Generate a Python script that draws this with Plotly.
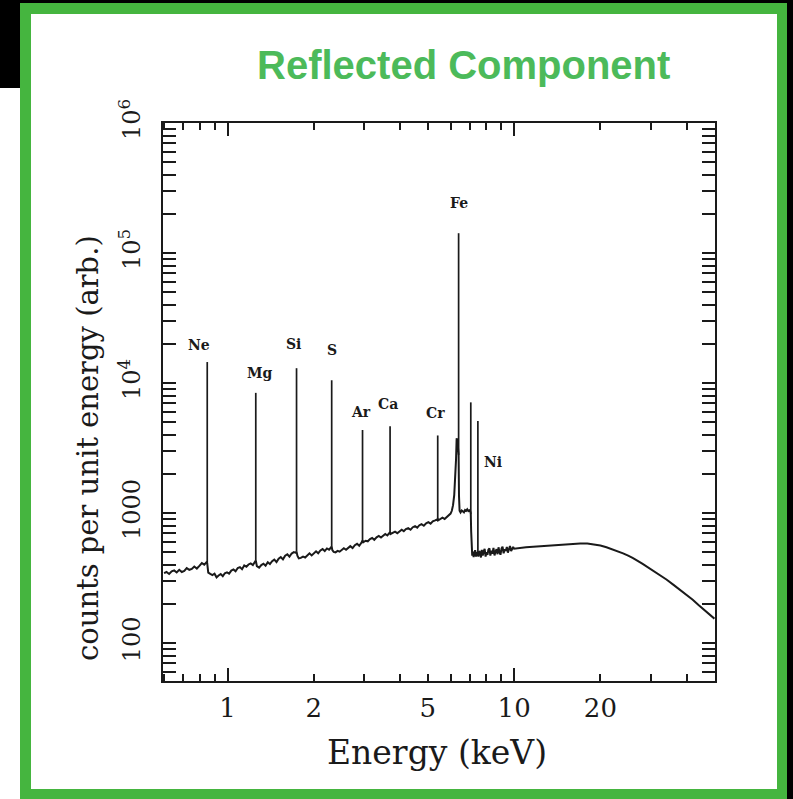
import math
import plotly.graph_objects as go

# ---------------------------------------------------------------- data
# Continuum of the reflected spectrum (energy in keV, counts per unit energy)
cont_energy = [
    0.600, 0.612, 0.625, 0.638, 0.651, 0.664, 0.678, 0.692, 0.706, 0.720,
    0.735, 0.750, 0.765, 0.781, 0.797, 0.813, 0.829, 0.843, 0.849,
    0.856, 0.870, 0.885, 0.900, 0.915, 0.930, 0.946, 0.962, 0.978, 0.995,
    1.012, 1.030, 1.048, 1.066, 1.085, 1.104, 1.123, 1.143, 1.163, 1.183,
    1.204, 1.225, 1.245, 1.254,
    1.265, 1.288, 1.311, 1.334, 1.357, 1.381, 1.405, 1.430, 1.455, 1.481,
    1.507, 1.533, 1.560, 1.588, 1.616, 1.644, 1.673, 1.703, 1.730, 1.740,
    1.752, 1.772, 1.800, 1.833, 1.865, 1.898, 1.931, 1.965, 2.000, 2.035,
    2.071, 2.108, 2.145, 2.183, 2.221, 2.260, 2.298, 2.308,
    2.320, 2.345, 2.380, 2.420, 2.460, 2.500, 2.545, 2.590, 2.635, 2.680,
    2.730, 2.780, 2.830, 2.880, 2.930, 2.950, 2.957,
    2.975, 3.030, 3.085, 3.140, 3.195, 3.250, 3.310, 3.370, 3.430, 3.490,
    3.550, 3.610, 3.680, 3.690,
    3.705, 3.770, 3.840, 3.910, 3.980, 4.050, 4.120, 4.190, 4.270, 4.350,
    4.430, 4.510, 4.590, 4.670, 4.750, 4.840, 4.930, 5.020, 5.110, 5.200,
    5.300, 5.400, 5.411,
    5.425, 5.520, 5.620, 5.720, 5.820, 5.920, 6.000, 6.060, 6.120, 6.180,
    6.230, 6.270, 6.300, 6.330, 6.360, 6.390, 6.400,
    6.420, 6.450, 6.500, 6.560, 6.620, 6.680, 6.740, 6.800, 6.860, 6.920,
    6.980, 7.020, 7.050, 7.058, 7.080, 7.110,
    7.140, 7.180, 7.220, 7.270, 7.310, 7.360, 7.410, 7.460, 7.472,
    7.500, 7.550, 7.600, 7.660, 7.710, 7.770, 7.830, 7.890, 7.950, 8.010,
    8.070, 8.130, 8.200, 8.260, 8.330, 8.400, 8.470, 8.540, 8.610, 8.680,
    8.750, 8.820, 8.890, 8.960, 9.040, 9.110, 9.190, 9.270, 9.350, 9.430,
    9.510, 9.590, 9.670, 9.760, 9.840, 9.920, 10.00,
    10.5, 11.0, 12.0, 13.0, 14.0, 15.0, 16.0, 17.0, 18.0, 19.0,
    20.0, 21.0, 22.0, 23.0, 24.0, 25.0, 26.0, 28.0, 30.0, 32.0,
    34.0, 36.0, 38.0, 40.0, 42.0, 44.0, 46.0, 48.0, 50.0,
]
cont_counts = [
    345, 352, 340, 356, 362, 349, 366, 352, 359, 377,
    366, 372, 388, 374, 392, 412, 401, 418, 408,
    348, 340, 333, 341, 320, 331, 339, 327, 344, 350,
    342, 361, 368, 356, 378, 384, 370, 395, 386, 402,
    410, 398, 428, 432,
    390, 380, 398, 408, 394, 418, 405, 426, 438, 420,
    446, 458, 440, 470, 482, 462, 488, 500, 494, 505,
    470, 448, 452, 462, 455, 476, 490, 472, 494, 508,
    490, 515, 528, 510, 534, 522, 545, 550,
    518, 502, 498, 512, 504, 518, 536, 522, 540, 556,
    538, 566, 580, 560, 590, 608, 615,
    596, 612, 606, 630, 642, 622, 650, 666, 648, 674,
    690, 672, 708, 714,
    690, 702, 718, 700, 728, 744, 726, 752, 766, 744,
    778, 792, 772, 806, 820, 798, 832, 850, 828, 862,
    878, 892, 898,
    876, 905, 920, 900, 935, 955, 990, 1040, 1150, 1380,
    1800, 2600, 3750, 3650, 3300, 2800, 2800,
    1350, 1040, 1010, 1045, 1030, 1012, 1055, 1040, 1068, 1035,
    1050, 1040, 1005, 980, 720, 520,
    470, 505, 458, 496, 518, 462, 500, 478, 490,
    462, 510, 498, 455, 520, 470, 508, 530, 462, 500,
    476, 522, 535, 470, 512, 488, 540, 472, 505, 528,
    482, 545, 500, 478, 535, 550, 490, 526, 512, 548,
    496, 540, 558, 510, 532, 548, 532,
    540, 545, 552, 559, 567, 575, 581, 584, 582, 574,
    562, 546, 528, 510, 490, 470, 450, 408, 370, 338,
    308, 280, 256, 235, 215, 196, 180, 166, 154,
]

# Fluorescence lines: energy (keV), continuum level at the line, peak height
line_label = ["Ne", "Mg", "Si", "S", "Ar", "Ca", "Cr", "Fe", "", "Ni"]
line_energy = [0.849, 1.254, 1.740, 2.308, 2.957, 3.690, 5.411, 6.400, 7.058, 7.472]
line_base = [408, 432, 505, 550, 615, 714, 898, 2800, 980, 490]
line_peak = [14500, 8400, 13000, 10500, 4350, 4650, 3950, 142000, 7100, 5100]

# Axis ticks
x_label_ticks = [1, 2, 5, 10, 20]
x_minor_ticks = [0.6, 0.7, 0.8, 0.9, 3, 4, 6, 7, 8, 9, 30, 40]
x_long_ticks = [1, 10]
y_major_ticks = [100, 1000, 1e4, 1e5, 1e6]
y_major_text = ["100", "1000", "10<sup>4</sup>", "10<sup>5</sup>", "10<sup>6</sup>"]
y_minor_ticks = [m * d for d in (10, 100, 1000, 1e4, 1e5) for m in range(2, 10)]

# ---------------------------------------------------------------- layout geometry (pixels)
W, H = 793, 799
L, R, T, B = 163, 715, 123, 681
X_RANGE = [-0.2255, 1.701]
Y_RANGE = [1.708, 6.0]

INK = "#1a1a1a"
SERIF = "DejaVu Serif"


def px_x(px):
    return (px - L) / (R - L)


def px_y(py):
    return (B - py) / (B - T)


def rect(x0, y0, x1, y1, color):
    return dict(type="rect", xref="paper", yref="paper",
                x0=px_x(x0), x1=px_x(x1), y0=px_y(y1), y1=px_y(y0),
                fillcolor=color, line=dict(width=0), layer="above")


fig = go.Figure()

# continuum
fig.add_trace(go.Scatter(
    x=cont_energy, y=cont_counts, mode="lines",
    line=dict(color=INK, width=2.0), hoverinfo="skip", showlegend=False,
))

# emission lines as vertical spikes rising from the continuum
seg_x, seg_y = [], []
for e, b0, p in zip(line_energy, line_base, line_peak):
    seg_x += [e, e, None]
    seg_y += [b0, p, None]
fig.add_trace(go.Scatter(
    x=seg_x, y=seg_y, mode="lines", xaxis="x2",
    line=dict(color=INK, width=1.7), hoverinfo="skip", showlegend=False,
))

# element labels (pixel offsets relative to the peak top)
label_offsets = [(-8, 17), (4, 20), (-3, 24), (0, 30), (-2, 18),
                 (-2, 22), (-2, 22), (0, 30), (0, 0), (15, -41)]
for name, e, p, (dx, dy) in zip(line_label, line_energy, line_peak, label_offsets):
    if not name:
        continue
    fig.add_annotation(
        x=math.log10(e), y=math.log10(p), xref="x", yref="y",
        text=name, showarrow=False, xshift=dx, yshift=dy,
        xanchor="center", yanchor="middle",
        font=dict(family=SERIF, size=14, color=INK, weight="bold"),
    )

# chart heading
fig.add_annotation(
    x=px_x(463), y=px_y(65), xref="paper", yref="paper",
    text="Reflected Component", showarrow=False,
    xanchor="center", yanchor="middle",
    font=dict(family="Liberation Sans", size=40, color="#4cba5a", weight="bold"),
)

# axis titles
fig.add_annotation(
    x=px_x(437), y=px_y(752), xref="paper", yref="paper",
    text="Energy (keV)", showarrow=False, xanchor="center", yanchor="middle",
    font=dict(family=SERIF, size=33, color=INK),
)
fig.add_annotation(
    x=px_x(88), y=px_y(448), xref="paper", yref="paper",
    text="counts per unit energy (arb.)", showarrow=False, textangle=-90,
    xanchor="center", yanchor="middle",
    font=dict(family=SERIF, size=29, color=INK),
)

# frame around the figure
GREEN = "#45b53f"
shapes = [
    rect(0, 0, 793, 3, "black"),
    rect(787, 0, 793, 799, "black"),
    rect(0, 0, 20, 88, "black"),
    rect(20, 3, 787, 14, GREEN),
    rect(20, 3, 31, 799, GREEN),
    rect(777, 3, 787, 799, GREEN),
    rect(20, 789, 787, 799, GREEN),
]

fig.update_layout(
    width=W, height=H,
    margin=dict(l=L, r=W - R, t=T, b=H - B, pad=0),
    paper_bgcolor="white", plot_bgcolor="white",
    shapes=shapes,
    xaxis=dict(
        type="log", range=X_RANGE, showgrid=False, zeroline=False,
        showline=True, linecolor=INK, linewidth=2, mirror="allticks",
        ticks="inside", ticklen=7, tickwidth=1.5, tickcolor=INK,
        tickmode="array", tickvals=x_label_ticks,
        ticktext=[str(v) for v in x_label_ticks],
        tickfont=dict(family=SERIF, size=26, color=INK),
        ticklabelstandoff=3,
        minor=dict(tickmode="array", tickvals=x_minor_ticks, ticks="inside",
                   ticklen=7, tickwidth=1.5, tickcolor=INK, showgrid=False),
    ),
    xaxis2=dict(
        type="log", range=X_RANGE, overlaying="x", anchor="y", side="bottom",
        showgrid=False, zeroline=False, showline=False, mirror="ticks",
        ticks="inside", ticklen=13, tickwidth=1.5, tickcolor=INK,
        tickmode="array", tickvals=x_long_ticks, showticklabels=False,
    ),
    yaxis=dict(
        type="log", range=Y_RANGE, showgrid=False, zeroline=False,
        showline=True, linecolor=INK, linewidth=2, mirror="allticks",
        ticks="inside", ticklen=13, tickwidth=1.5, tickcolor=INK,
        tickmode="array", tickvals=y_major_ticks, ticktext=y_major_text,
        tickangle=-90,
        tickfont=dict(family=SERIF, size=24, color=INK),
        ticklabelstandoff=11,
        minor=dict(tickmode="array", tickvals=y_minor_ticks, ticks="inside",
                   ticklen=6, tickwidth=1.5, tickcolor=INK, showgrid=False),
    ),
)

fig.write_html("out.html")
